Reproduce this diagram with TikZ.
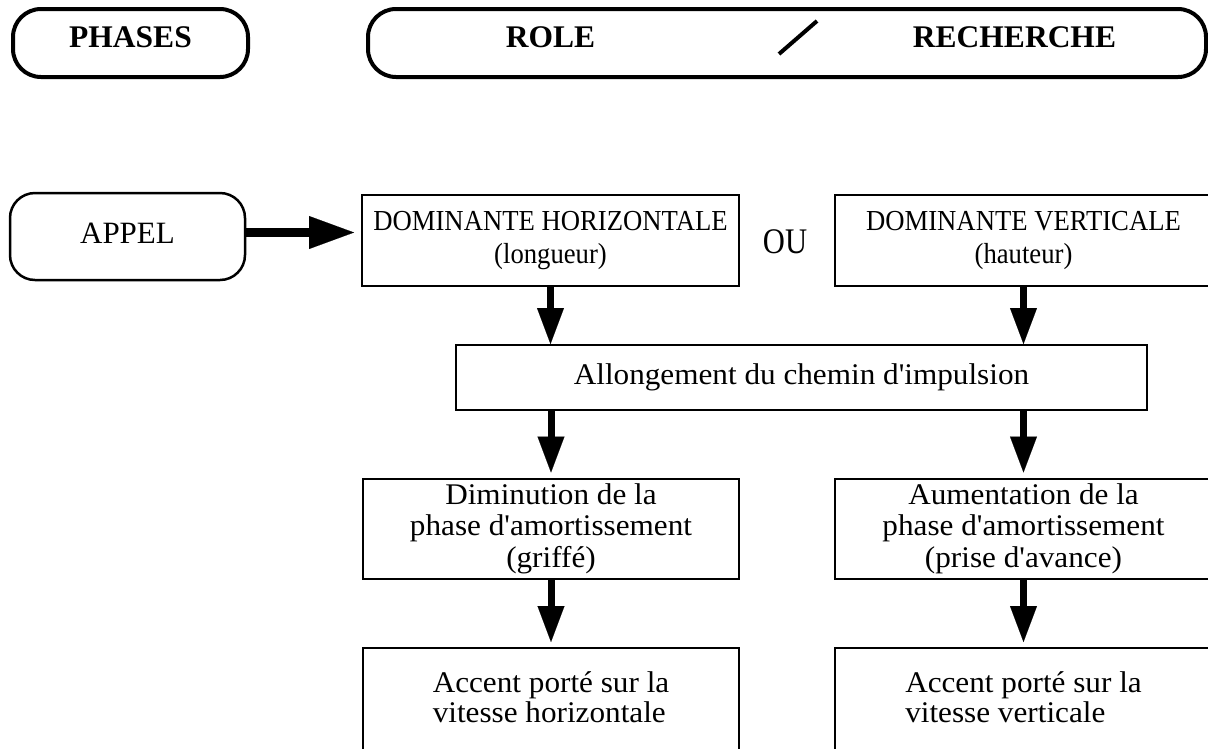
\documentclass[tikz,border=0pt]{standalone}
\usepackage{fontspec}
\setmainfont{Liberation Serif}
\newfontfamily\wideserif[FakeStretch=1.04]{Liberation Serif}
\newfontfamily\narrowserif[FakeStretch=0.92]{Liberation Serif}
\newfontfamily\tallserif[FakeStretch=0.85]{Liberation Serif}
\usetikzlibrary{arrows.meta}
\begin{document}
\begin{tikzpicture}[x=1pt,y=-1pt,
  hdrbox/.style={draw, line width=4pt, rounded corners=28pt, inner sep=0pt},
  hdrtext/.style={anchor=base, inner sep=0pt, font=\bfseries\fontsize{31.5}{36}\selectfont},
  roundbox/.style={draw, line width=2.5pt, rounded corners=25pt, inner sep=0pt},
  box/.style={draw, line width=2pt, inner sep=0pt},
  bodytext/.style={font=\wideserif\fontsize{30}{31.5}\selectfont},
  captext/.style={font=\narrowserif\fontsize{29}{33}\selectfont},
  downarrow/.style={line width=7pt, -{Triangle[length=36pt, width=27pt, line width=0.1pt]}},
  bigarrow/.style={line width=9pt, -{Triangle[length=45pt, width=33pt, line width=0.1pt]}}
]
\useasboundingbox (0,0) rectangle (1208,748);

% headers
\node[hdrbox, minimum width=235pt, minimum height=68pt] (phases) at (130.5,43) {};
\node[hdrtext] (phasesT) at (130.5,47) {PHASES};
\node[hdrbox, minimum width=838pt, minimum height=68pt] (role) at (787,43) {};
\node[hdrtext] (roleT) at (550.5,47) {ROLE};
\node[hdrtext] (rechT) at (1014.5,47) {RECHERCHE};
\draw[line width=4pt] (779,54) -- (817,21);

% APPEL
\node[roundbox, minimum width=235pt, minimum height=87pt, font=\fontsize{31}{36}\selectfont] (appel) at (127.5,236.5) {APPEL\vphantom{(}};

% dominantes
\node[box, minimum width=377pt, minimum height=91pt, captext, align=center] (dh) at (550.5,240.5)
  {DOMINANTE HORIZONTALE\\(longueur)};
\node[box, minimum width=377pt, minimum height=91pt, captext, align=center] (dv) at (1023.5,240.5)
  {DOMINANTE VERTICALE\\(hauteur)};
\node[anchor=base, inner sep=0pt, font=\tallserif\fontsize{36}{40}\selectfont] (ou) at (785,253) {OU};

% allongement
\node[box, minimum width=691pt, minimum height=65pt, bodytext] (allong) at (801.5,377.5)
  {Allongement du chemin d'impulsion};

% amortissement
\node[box, minimum width=376pt, minimum height=100pt, bodytext, align=center] (dim) at (551,528.5)
  {Diminution de la\\phase d'amortissement\\(griffé)};
\node[box, minimum width=377pt, minimum height=100pt, bodytext, align=center] (aum) at (1023.5,528.5)
  {Aumentation de la\\phase d'amortissement\\(prise d'avance)};

% accent
\node[box, minimum width=376pt, minimum height=104pt, align=left, font=\wideserif\fontsize{30}{30}\selectfont] (acch) at (551,700)
  {Accent porté sur la\\vitesse horizontale\vphantom{p}};
\node[box, minimum width=377pt, minimum height=104pt, align=left, font=\wideserif\fontsize{30}{30}\selectfont] (accv) at (1023.5,700)
  {Accent porté sur la\\vitesse verticale\vphantom{p}};

% connectors
\coordinate (ay) at (0,232.5);
\draw[bigarrow] (appel.east |- ay) -- ([xshift=-7pt]dh.west |- ay);
\draw[downarrow] (dh.south) -- (dh.south |- allong.north);
\draw[downarrow] (dv.south) -- (dv.south |- allong.north);
\draw[downarrow, shorten >=5pt] (dim.north |- allong.south) -- (dim.north);
\draw[downarrow, shorten >=5pt] (aum.north |- allong.south) -- (aum.north);
\draw[downarrow, shorten >=5pt] (dim.south) -- (acch.north);
\draw[downarrow, shorten >=5pt] (aum.south) -- (accv.north);
\end{tikzpicture}
\end{document}
